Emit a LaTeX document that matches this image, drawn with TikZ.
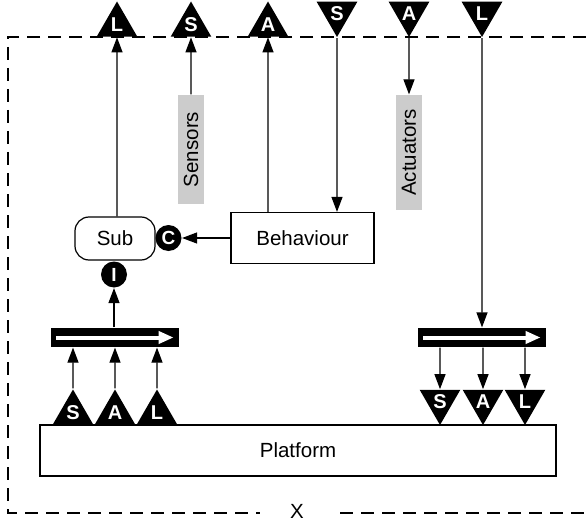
\documentclass[tikz,border=0pt]{standalone}
\usepackage{fontspec}
\setmainfont{Liberation Sans}
\usetikzlibrary{shapes.geometric,arrows.meta}
\begin{document}
\begin{tikzpicture}[x=1pt,y=-1pt,line width=1.2pt,
  every node/.style={font=\fontsize{20.5}{24}\selectfont},
  arr/.style={-{Triangle[length=15pt,width=11pt]}},
  port/.style={regular polygon,regular polygon sides=3,fill=black,inner sep=0pt,
    minimum size=47pt,text=white,font=\fontsize{20}{20}\selectfont\bfseries},
  portdown/.style={port,shape border rotate=180},
  conn/.style={circle,fill=black,inner sep=0pt,minimum size=26pt,text=white,
    font=\fontsize{19}{19}\selectfont\bfseries},
  bus/.style={fill=black,inner sep=0pt,minimum width=128pt,minimum height=19pt},
  tag/.style={fill=gray!40,rotate=90,inner sep=0pt,minimum height=26pt},
  busarrow/.style={white,line width=4pt,-{Triangle[length=15pt,width=12pt]}}]
\useasboundingbox (0,0) rectangle (586,524);
% outer boundary
\draw[dash pattern=on 13pt off 8pt] (586,37) -- (8,37) -- (8,513) -- (586,513);
\node[fill=white,inner xsep=30pt,inner ysep=2pt] (xlab) at (297,511) {X};
% ports on the boundary
\node[port] (tL) at (117,25) {L};
\node[port] (tS) at (191,25) {S};
\node[port] (tA) at (268,25) {A};
\node[portdown] (tSd) at (337,13.5) {S};
\node[portdown] (tAd) at (409,13.5) {A};
\node[portdown] (tLd) at (482,13.5) {L};
% inside
\node[tag,minimum width=109pt] (sens) at (191,149.5) {Sensors};
\node[tag,minimum width=115pt] (act) at (409,152.5) {Actuators};
\node[draw,rounded corners=14pt,minimum width=80pt,minimum height=43pt] (sub) at (115,238.5) {Sub};
\node[draw,minimum width=143pt,minimum height=51pt] (beh) at (302.5,238) {Behaviour};
\node[conn] (cC) at (168.5,238) {C};
\node[conn] (cI) at (114,274.5) {I};
\node[bus] (lbus) at (115,337.5) {};
\node[bus] (rbus) at (482,337.5) {};
\node[draw,minimum width=516pt,minimum height=51pt] (plat) at (298,450.5) {Platform};
\node[port] (pS) at (73,413) {S};
\node[port] (pA) at (115,413) {A};
\node[port] (pL) at (157,413) {L};
\node[portdown] (qS) at (440,401.5) {S};
\node[portdown] (qA) at (483,401.5) {A};
\node[portdown] (qL) at (525,401.5) {L};
% connectors
\draw[arr] (tL |- sub.north) -- (tL);
\draw[arr] (sens) -- (tS);
\draw[arr] (tA |- beh.north) -- (tA);
\draw[arr] (tSd) -- (tSd |- beh.north);
\draw[arr] (tAd) -- (act);
\draw[arr] (tLd) -- (rbus);
\draw[arr] (beh.west) -- (cC);
\draw[arr] (cI |- lbus.north) -- (cI);
\foreach \p in {pS,pA,pL} \draw[arr] (\p) -- (\p |- lbus.south);
\foreach \q in {qS,qA,qL} \draw[arr] (\q |- rbus.south) -- (\q);
\draw[busarrow] ([xshift=6pt]lbus.west) -- ([xshift=-6pt]lbus.east);
\draw[busarrow] ([xshift=6pt]rbus.west) -- ([xshift=-6pt]rbus.east);
\end{tikzpicture}
\end{document}
